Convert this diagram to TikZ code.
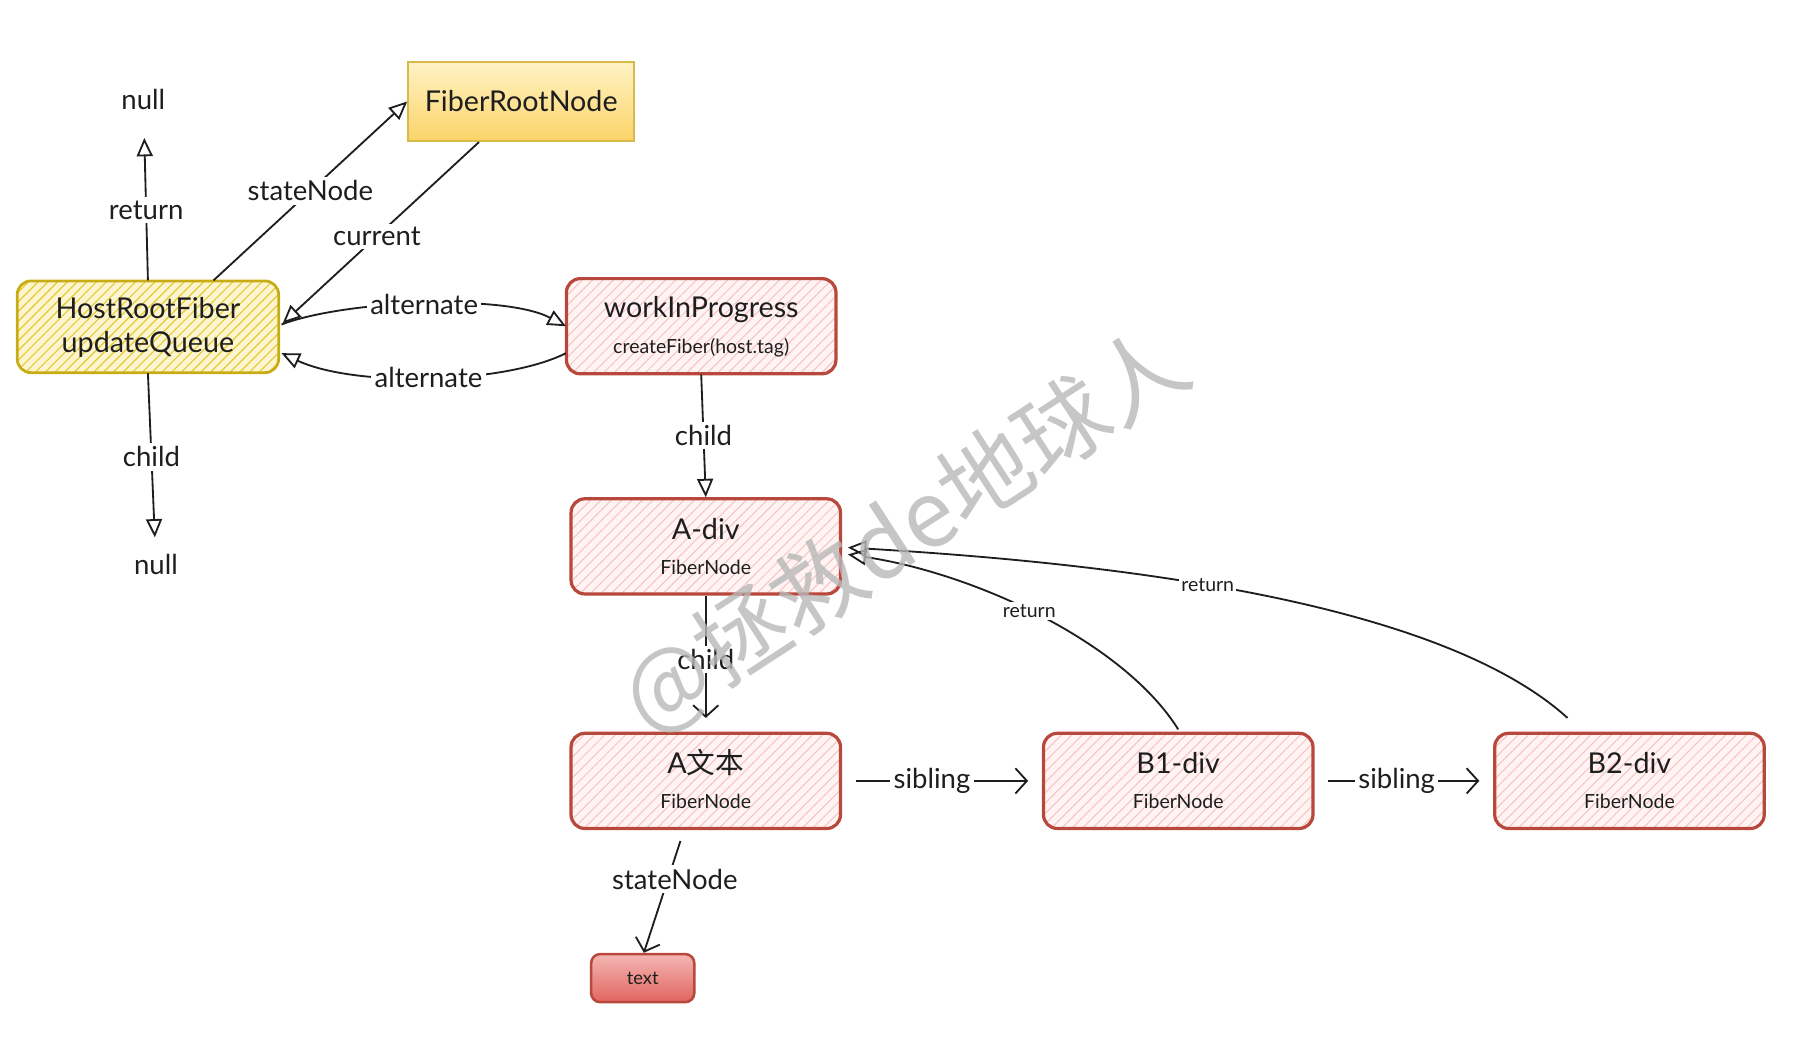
\documentclass[tikz,border=0pt]{standalone}
\usepackage{fontspec}
\setmainfont{Lato}
\newfontfamily\cjk{Noto Sans CJK SC}
\usetikzlibrary{arrows.meta,calc,patterns.meta}

\definecolor{ink}{HTML}{1E1E1E}
\definecolor{boxred}{HTML}{B8473C}
\definecolor{pinkbg}{HTML}{FFF4F3}
\definecolor{pinkline}{HTML}{F5C4C0}
\definecolor{ylwborder}{HTML}{C8AC14}
\definecolor{ylwbg}{HTML}{FCF5CF}
\definecolor{ylwline}{HTML}{E3CB35}
\definecolor{rootborder}{HTML}{D6BA4C}
\definecolor{roottop}{HTML}{FEF2C4}
\definecolor{rootbot}{HTML}{FBD468}
\definecolor{texttop}{HTML}{F3B6B3}
\definecolor{textbot}{HTML}{E2655F}
\definecolor{wmgray}{HTML}{B8B8B8}

\tikzset{
  fiberbox/.style={draw=boxred, line width=1.4pt, rounded corners=6pt,
    minimum width=117.5pt, minimum height=41.5pt, inner sep=0pt,
    preaction={fill=pinkbg},
    pattern={Lines[angle=45,distance=3.2pt,line width=0.45pt]}, pattern color=pinkline},
  hostbox/.style={draw=ylwborder, line width=1.2pt, rounded corners=6pt,
    minimum width=114pt, minimum height=40pt, inner sep=0pt,
    preaction={fill=ylwbg},
    pattern={Lines[angle=45,distance=3pt,line width=0.5pt]}, pattern color=ylwline},
  rootbox/.style={draw=rootborder, line width=0.9pt,
    minimum width=98.5pt, minimum height=34.5pt, inner sep=0pt,
    top color=roottop, bottom color=rootbot, text=ink,
    font=\fontsize{12.5}{15}\selectfont},
  leafbox/.style={draw=boxred, line width=1.1pt, rounded corners=4pt,
    minimum width=45pt, minimum height=21pt, inner sep=0pt,
    top color=texttop, bottom color=textbot, text=ink,
    font=\fontsize{8}{10}\selectfont},
  title/.style={font=\fontsize{12.5}{15}\selectfont, text=ink, inner sep=1pt},
  sub/.style={font=\fontsize{8.5}{10}\selectfont, text=ink, inner sep=1pt},
  word/.style={font=\fontsize{12}{14}\selectfont, text=ink, inner sep=1pt},
  lbl/.style={font=\fontsize{12}{14}\selectfont, text=ink, fill=white, inner sep=1.5pt},
  slbl/.style={font=\fontsize{8.5}{10}\selectfont, text=ink, fill=white, inner sep=1pt},
  link/.style={draw=ink, line width=0.8pt},
  tri/.style={link, -{Triangle[open, length=8pt, width=7pt, line width=0.8pt]}},
  barb/.style={link, -{Straight Barb[length=5pt, width=11pt, line width=0.8pt]}},
}

\begin{document}
\begin{tikzpicture}[x=0.5pt, y=-0.5pt]
\useasboundingbox (0,0) rectangle (1568,924);

% ---- fibers and root ----
\node[hostbox] (hrf) at (129,285) {};
\node[title] (hrfA) at ($(hrf)+(0,-16)$) {HostRootFiber};
\node[title] (hrfB) at ($(hrf)+(0,15)$) {updateQueue};

\node[rootbox] (frf) at (454.5,88.5) {FiberRootNode};

\node[fiberbox] (wip) at (611.5,284.5) {};
\node[title] (wipA) at ($(wip)+(0,-14.5)$) {workInProgress};
\node[sub] (wipB) at ($(wip)+(0,18.5)$) {createFiber(host.tag)};

\node[fiberbox] (adiv) at (615.5,476.5) {};
\node[title] (adivA) at ($(adiv)+(0,-15.5)$) {A-div};
\node[sub] (adivB) at ($(adiv)+(0,18.5)$) {FiberNode};

\node[fiberbox] (atext) at (615.5,681) {};
\node[title] (atextA) at ($(atext)+(0,-16)$) {A{\cjk 文本}};
\node[sub] (atextB) at ($(atext)+(0,18)$) {FiberNode};

\node[fiberbox] (b1) at (1027.5,681) {};
\node[title] (b1A) at ($(b1)+(0,-16)$) {B1-div};
\node[sub] (b1B) at ($(b1)+(0,18)$) {FiberNode};

\node[fiberbox] (b2) at (1421,681) {};
\node[title] (b2A) at ($(b2)+(0,-16)$) {B2-div};
\node[sub] (b2B) at ($(b2)+(0,18)$) {FiberNode};

\node[leafbox] (tnode) at (560.5,853) {text};

\node[word] (nullT) at (125,87) {null};
\node[word] (nullB) at (136,492) {null};

% ---- pointers of the host root fiber ----
\draw[tri, shorten >=11pt] (hrf.north) -- node[lbl, pos=0.42]{return} (nullT);
\draw[tri] ($(hrf.north west)!0.75!(hrf.north east)$) -- node[lbl]{stateNode} (frf.west);
\draw[tri] ($(frf.south west)!0.315!(frf.south east)$) -- node[lbl, pos=0.52]{current} ($(hrf.east)+(3,-3)$);
\draw[tri] ($(hrf.east)+(2,-2)$) .. controls (300,262) and (440,256) .. node[lbl]{alternate} (wip.west);
\draw[tri] ($(wip.west)+(0,23.5)$) .. controls (440,335) and (310,338) .. node[lbl]{alternate} ($(hrf.east)+(2,23)$);
\draw[tri, shorten >=6pt] (hrf.south) -- node[lbl, pos=0.47]{child} (nullB);

% ---- work-in-progress tree ----
\draw[tri] (wip.south) -- node[lbl]{child} (adiv.north);
\draw[barb, shorten >=6pt] (adiv.south) -- node[lbl, pos=0.47]{child} (atext.north);
\draw[barb, shorten <=5pt] ($(atext.south)+(-19,0)$) -- node[lbl, pos=0.4, xshift=3pt]{stateNode} ($(tnode.north)+(1,0)$);
\draw[barb, shorten <=6pt, shorten >=6pt] (atext.east) -- node[lbl, pos=0.45]{sibling} (b1.west);
\draw[barb, shorten <=6pt, shorten >=6pt] (b1.east) -- node[lbl, pos=0.46]{sibling} (b2.west);
\draw[tri] ($(b1.north)+(0,-2)$) .. controls (980,560) and (850,500) .. node[slbl, pos=0.53]{return} ($(adiv.east)+(5,7)$);
\draw[tri] ($(b2.north)+(-54,-12)$) .. controls (1250,520) and (950,490) .. node[slbl, pos=0.55]{return} ($(adiv.east)+(5,1)$);

% ---- watermark ----
\node[text=wmgray, opacity=0.8, rotate=33, font=\cjk\fontsize{40}{44}\selectfont] (wm) at (790,464) {@拯救de地球人};
\end{tikzpicture}
\end{document}
